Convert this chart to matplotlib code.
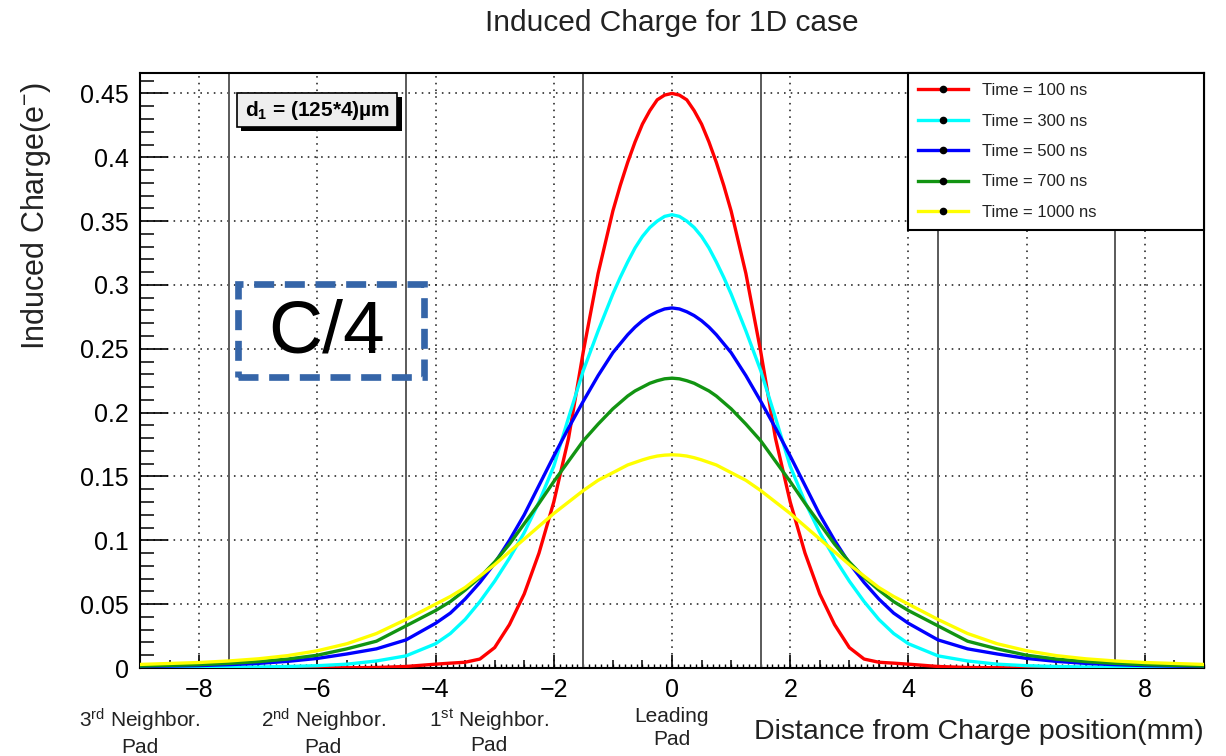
import numpy as np
import matplotlib
matplotlib.use("Agg")
import matplotlib.pyplot as plt
from matplotlib.lines import Line2D
from matplotlib.patches import Rectangle
from matplotlib.ticker import MultipleLocator, FuncFormatter
import matplotlib.transforms as mtransforms

plt.rcParams['font.family'] = ['Liberation Sans', 'DejaVu Sans']
plt.rcParams['mathtext.fontset'] = 'custom'
plt.rcParams['mathtext.rm'] = 'Liberation Sans'
plt.rcParams['mathtext.it'] = 'Liberation Sans:italic'
plt.rcParams['mathtext.bf'] = 'Liberation Sans:bold'

# half profiles (x >= 0); curves are symmetric about 0
x_half = [0.0, 0.125, 0.25, 0.375, 0.5, 0.625, 0.75, 0.875, 1.0, 1.25, 1.5, 1.75, 2.0, 2.25, 2.5,
          2.75, 3.0, 3.25, 3.5, 3.75, 4.0, 4.5, 5.0, 5.5, 6.0, 6.5, 7.0, 7.5, 8.0, 9.0]
q_100 = [0.450, 0.4487, 0.445, 0.4365, 0.426, 0.412, 0.396, 0.378, 0.358, 0.309, 0.248, 0.180,
         0.130, 0.090, 0.058, 0.034, 0.016, 0.007, 0.0045, 0.0038, 0.003,
         0.0012, 0.0004, 0.0002, 0.0001, 0, 0, 0, 0, 0]
q_300 = [0.355, 0.3537, 0.350, 0.345, 0.338, 0.329, 0.318, 0.306, 0.293, 0.264, 0.233, 0.196,
         0.158, 0.130, 0.106, 0.086, 0.068, 0.052, 0.038, 0.027, 0.019,
         0.0095, 0.0055, 0.003, 0.0018, 0.0012, 0.0008, 0.0006, 0.0004, 0.0002]
q_500 = [0.282, 0.2812, 0.279, 0.276, 0.272, 0.267, 0.261, 0.254, 0.247, 0.229, 0.209, 0.188,
         0.166, 0.143, 0.120, 0.100, 0.082, 0.067, 0.054, 0.043, 0.035,
         0.022, 0.015, 0.011, 0.0075, 0.0052, 0.0036, 0.0026, 0.0019, 0.0011]
q_700 = [0.227, 0.2265, 0.225, 0.223, 0.220, 0.217, 0.213, 0.208, 0.203, 0.191, 0.178, 0.162,
         0.146, 0.129, 0.113, 0.097, 0.083, 0.071, 0.061, 0.052, 0.045,
         0.033, 0.021, 0.015, 0.010, 0.007, 0.005, 0.0036, 0.0026, 0.0015]
q_1000 = [0.167, 0.1667, 0.166, 0.1647, 0.163, 0.161, 0.159, 0.156, 0.153, 0.147, 0.139, 0.130,
          0.121, 0.111, 0.101, 0.091, 0.081, 0.072, 0.063, 0.056, 0.050,
          0.038, 0.027, 0.019, 0.0135, 0.0097, 0.0072, 0.0055, 0.0043, 0.0028]

labels = ["Time = 100 ns", "Time = 300 ns", "Time = 500 ns", "Time = 700 ns", "Time = 1000 ns"]
colors = ["#ff0000", "#00ffff", "#0000ff", "#129412", "#ffff00"]

pad_edges = [-7.5, -4.5, -1.5, 1.5, 4.5, 7.5]
pad_names = ["3$^{\\rm rd}$ Neighbor.\nPad", "2$^{\\rm nd}$ Neighbor.\nPad",
             "1$^{\\rm st}$ Neighbor.\nPad", "Leading\nPad"]
pad_name_x = [-9.0, -5.9, -3.1, 0.0]


def mirror(vals):
    # left half is the mirror image of the right half
    return list(vals[:0:-1]) + list(vals)


x = [-v for v in x_half[:0:-1]] + x_half

fig = plt.figure(figsize=(12.26, 7.56), dpi=100)
ax = fig.add_axes([140 / 1226, 1 - 668 / 756, 1064 / 1226, 595 / 756])
ax.set_xlim(-9, 9)
ax.set_ylim(0, 0.466)

ax.set_axisbelow(True)
ax.grid(True, which='major', color='#222222', linestyle=(0, (1, 3.2)), linewidth=1.15)

for xb in pad_edges:
    ax.axvline(xb, color='#5a5a5a', lw=1.4, zorder=1.5)

for q, c in zip([q_100, q_300, q_500, q_700, q_1000], colors):
    ax.plot(x, mirror(q), color=c, lw=2.4, zorder=3, solid_joinstyle='round')

# ticks
ax.xaxis.set_major_locator(MultipleLocator(2))
ax.xaxis.set_minor_locator(MultipleLocator(0.5))
ax.yaxis.set_major_locator(MultipleLocator(0.05))
ax.yaxis.set_minor_locator(MultipleLocator(0.01))
ax.yaxis.set_major_formatter(FuncFormatter(lambda v, _: f"{v:g}"))
ax.tick_params(axis='x', which='major', direction='in', length=9.5, width=1.2, labelsize=18, pad=7)
ax.tick_params(axis='x', which='minor', direction='in', length=6, width=1.1)
ax.tick_params(axis='y', which='major', direction='in', length=20, width=1.2, labelsize=18, pad=8)
ax.tick_params(axis='y', which='minor', direction='in', length=10, width=1.1)
sec = ax.secondary_xaxis('bottom')
sec.set_xticks(np.arange(-9, 9.001, 0.1))
sec.tick_params(direction='in', length=3, width=1.0, labelbottom=False)
sec.spines['bottom'].set_visible(False)

for s in ax.spines.values():
    s.set_linewidth(1.5)
    s.set_color('black')

fig.text(672 / 1226, 1 - 23 / 756, "Induced Charge for 1D case", ha='center', va='center',
         fontsize=21.5, color='#222222')
ax.set_ylabel("Induced Charge(e$^{-}$)", fontsize=22, loc='top', color='#222222')
ax.yaxis.set_label_coords(-0.082, 0.985)
ax.set_xlabel("Distance from Charge position(mm)", fontsize=20.5, loc='right', color='#222222')
ax.xaxis.set_label_coords(1.0, -0.086)

trans = mtransforms.blended_transform_factory(ax.transData, ax.transAxes)
for name, px in zip(pad_names, pad_name_x):
    ax.text(px, -0.066, name, transform=trans, ha='center', va='top', fontsize=15,
            linespacing=1.22, multialignment='center', color='#222222', clip_on=False)

# legend
handles = [Line2D([], [], color=c, lw=2.4, marker='o', markersize=4.5, mfc='black', mec='black')
           for c in colors]
leg = ax.legend(handles, labels, loc='upper left', bbox_to_anchor=(0.722, 0.739, 0.278, 0.261),
                mode='expand', fontsize=12, fancybox=False, edgecolor='black', framealpha=1,
                borderaxespad=0, handlelength=3.0, labelspacing=0.93, borderpad=0.6,
                handletextpad=0.8, numpoints=1)
leg.get_frame().set_linewidth(1.5)
for t in leg.get_texts():
    t.set_color('#222222')
leg.set_zorder(10)

# d1 box with shadow
ax.add_patch(Rectangle((0.095, 0.902), 0.151, 0.057, transform=ax.transAxes, fc='black',
                       ec='none', zorder=6))
ax.add_patch(Rectangle((0.091, 0.909), 0.151, 0.057, transform=ax.transAxes, fc='#eeeeee',
                       ec='black', lw=1.2, zorder=7))
ax.text(0.1665, 0.9375, r"d$_\mathbf{1}$ = (125*4)µm", transform=ax.transAxes, ha='center',
        va='center', fontsize=15, fontweight='bold', zorder=8)

# C/4 annotation
ax.add_patch(Rectangle((0.092, 0.489), 0.175, 0.156, transform=ax.transAxes, fill=False,
                       ec='#3565a8', lw=4.8, linestyle=(0, (3, 1.6)), zorder=6))
ax.text(0.175, 0.563, "C/4", transform=ax.transAxes, ha='center', va='center', fontsize=54,
        color='black', zorder=7)

fig.savefig("out.png", dpi=100, facecolor='white')
